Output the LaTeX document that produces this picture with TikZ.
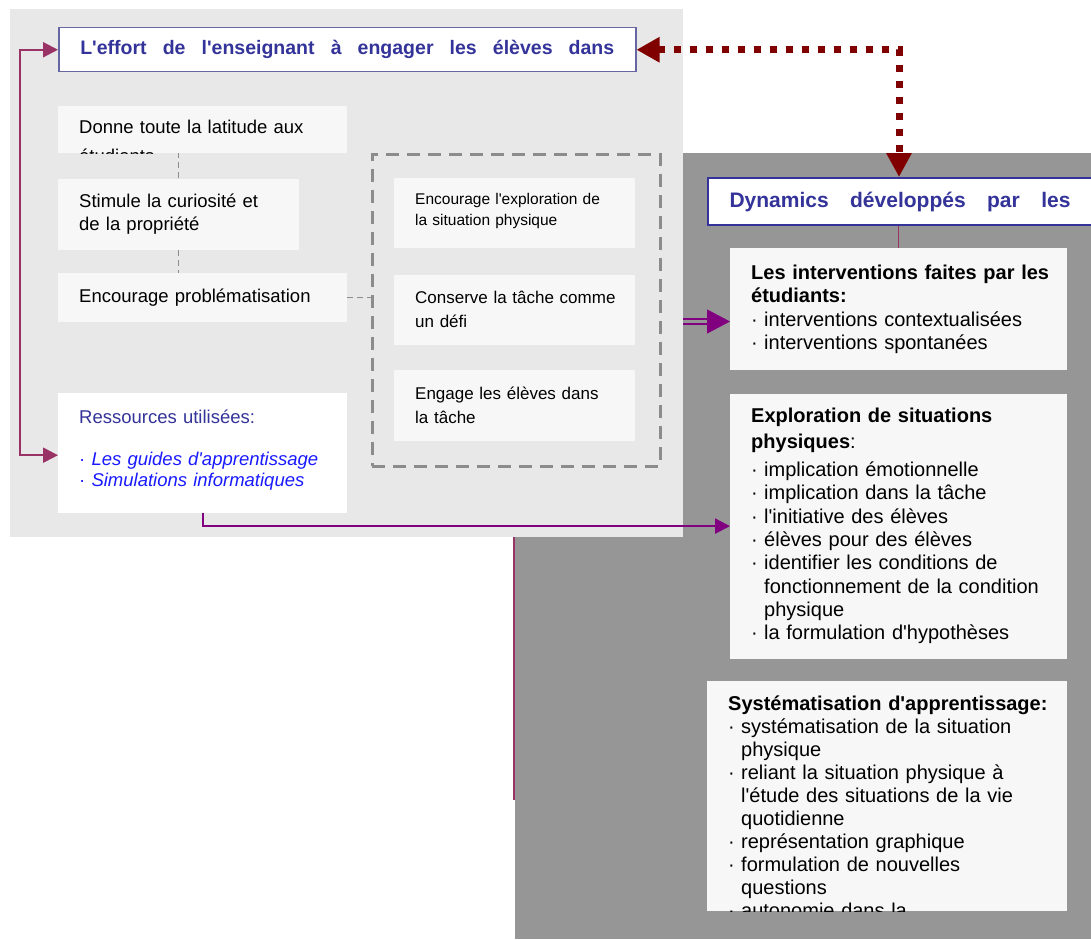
\documentclass[tikz,border=0pt]{standalone}
\usepackage{fontspec}
\setmainfont{Liberation Sans}[Ligatures=TeXOff]
\usetikzlibrary{positioning,arrows.meta}
\definecolor{fondclair}{HTML}{E8E8E8}
\definecolor{fondsombre}{HTML}{969696}
\definecolor{fondboite}{HTML}{F7F7F7}
\definecolor{bleutitre}{HTML}{333399}
\definecolor{cadretitre}{HTML}{6666A3}
\definecolor{roselien}{HTML}{993366}
\definecolor{violetlien}{HTML}{800080}
\definecolor{rougefonce}{HTML}{800000}
\definecolor{gristrait}{HTML}{8C8C8C}
\definecolor{bleuital}{HTML}{1A1AFF}
\newcommand{\puce}{\makebox[13pt][l]{·}}
\newcommand{\retrait}{\hspace*{13pt}}
\tikzset{panneau/.style={
        anchor=north west, 
        inner sep=0pt } }
\tikzset{titre/.style={
        fill=white, 
        anchor=north west, 
        inner sep=0pt, 
        text=bleutitre, 
        font={\bfseries\fontsize{19.5}{23}\selectfont} } }
\tikzset{boite/.style={
        fill=fondboite, 
        anchor=north west, 
        inner xsep=21pt, 
        inner ysep=0pt, 
        align=left } }
\tikzset{texteg/.style={font={\fontsize{18.5}{23.5}\selectfont}}}
\tikzset{textep/.style={font={\fontsize{17}{23.5}\selectfont}}}
\tikzset{textedr/.style={font={\fontsize{20}{23.3}\selectfont}}}
\tikzset{tiretgris/.style={
        draw=gristrait, 
        line width=1.2pt, 
        dash pattern=on 6pt off 4pt } }
\tikzset{lienrose/.style={draw=roselien, line width=2.2pt}}
\tikzset{lienviolet/.style={draw=violetlien, line width=2.2pt}}
\tikzset{pointille/.style={
        draw=rougefonce, 
        line width=7pt, 
        dash pattern=on 7pt off 9pt } }

\begin{document}
\begin{tikzpicture}[x=1pt,y=-1pt]
\useasboundingbox (0,0) rectangle (1091,939);

% fonds
\node[panneau, fill=fondsombre, minimum width=580pt, minimum height=786pt] (sombre) at (515,153) {};
\node[panneau, fill=fondclair, minimum width=673pt, minimum height=528pt] (clair) at (10,9) {};

% partie enseignant
\node[titre, draw=cadretitre, line width=1.5pt, minimum width=577pt, minimum height=44pt] (effort) at (58,27) 
{\makebox[534pt][s]{L'effort de l'enseignant à engager les élèves dans}};

\node[boite, minimum width=289pt, minimum height=47pt] (donne) at (58,106) {};
\begin{scope}
\clip (donne.north west) rectangle (donne.south east);
\node[font={\fontsize{18.5}{29}\selectfont}, anchor=north west, text width=247pt, align=left, inner xsep=21pt, inner ysep=14pt] (donnetxt) 
at (donne.north west) {\mbox{Donne toute la latitude aux}\\étudiants};
\end{scope}

\node[boite, texteg, text width=199pt, minimum height=71pt] (stimule) 
[below=25pt of donne.south west, anchor=north west] {\mbox{Stimule la curiosité et}\\de la propriété};
\node[boite, texteg, text width=247pt, minimum height=49pt] (encourage) 
[below=23pt of stimule.south west, anchor=north west] {\mbox{Encourage problématisation}};

\node[panneau, draw=gristrait, line width=2.5pt, dash pattern=on 13pt off 8pt, minimum width=288pt, minimum height=312pt] (cadre) at (371,153) {};

\node[boite, font={\fontsize{15.5}{21}\selectfont}, text width=199pt, minimum height=70pt] (explor) at (394,178) 
{\mbox{Encourage l'exploration de}\\la situation physique\\[-14pt]\mbox{}};
\node[boite, textep, text width=199pt, minimum height=70pt] (conserve) 
[below=26pt of explor.south west, anchor=north west] {\mbox{Conserve la tâche comme}\\un défi};
\node[boite, textep, text width=199pt, minimum height=71pt] (engage) 
[below=25pt of conserve.south west, anchor=north west] {\mbox{Engage les élèves dans}\\la tâche};

\node[boite, fill=white, font={\fontsize{18.5}{21}\selectfont}, text width=247pt, minimum height=120pt] (ressources) at (58,393) 
{\textcolor{bleutitre}{Ressources utilisées:}\\[21pt]
\textcolor{bleuital}{· \textit{Les guides d'apprentissage}}\\
\textcolor{bleuital}{· \textit{Simulations informatiques}}\\[-10pt]\mbox{}};

% partie eleves
\node[titre, draw=bleutitre, line width=2pt, minimum width=390pt, minimum height=47pt, 
font={\bfseries\fontsize{21}{24}\selectfont}] (dynamique) at (707,177) 
{\hspace*{-6pt}\makebox[341pt][s]{Dynamics développés par les}};

\node[boite, textedr, text width=295pt, minimum height=122pt] (interv) at (730,248) 
{\mbox{\textbf{Les interventions faites par les}}\\
\textbf{étudiants:}\\
\mbox{\puce interventions contextualisées}\\
\puce interventions spontanées};

\node[boite, textedr, text width=295pt, minimum height=265pt] (explo) 
[below=23pt of interv.south west, anchor=north west] 
{\mbox{\textbf{Exploration de situations}}\\[2pt]
\textbf{physiques}:\\[5pt]
\puce implication émotionnelle\\
\puce implication dans la tâche\\
\puce l'initiative des élèves\\
\puce élèves pour des élèves\\
\mbox{\puce identifier les conditions de}\\
\mbox{\retrait fonctionnement de la condition}\\
\retrait physique\\
\mbox{\puce la formulation d'hypothèses}};

\node[boite, minimum width=360pt, minimum height=230pt] (syst) at (707,681) {};
\begin{scope}
\clip (syst.north west) rectangle (syst.south east);
\node[font={\fontsize{20}{23}\selectfont}, anchor=north west, text width=320pt, align=left, inner xsep=21pt, inner ysep=15pt] (systtxt) 
at (syst.north west) 
{\mbox{\textbf{Systématisation d'apprentissage:}}\\
\mbox{\puce systématisation de la situation}\\
\retrait physique\\
\mbox{\puce reliant la situation physique à}\\
\mbox{\retrait l'étude des situations de la vie}\\
\retrait quotidienne\\
\mbox{\puce représentation graphique}\\
\mbox{\puce formulation de nouvelles}\\
\retrait questions\\
\puce autonomie dans la};
\end{scope}

% liens
\coordinate (gauche) at (20,0);
\coordinate (coude) at (899,0);
\coordinate (depart) at (683,321.5);
\coordinate (traithaut) at (514,537);
\coordinate (traitbas) at (514,800);

\draw[tiretgris] (stimule.north) -- (stimule.north |- donne.south);
\draw[tiretgris] (stimule.south) -- (stimule.south |- encourage.north);
\draw[tiretgris] (encourage.east) -- (encourage.east -| cadre.west);

\draw[lienrose, {Triangle[length=15pt,width=15pt]}-{Triangle[length=15pt,width=15pt]}] 
(effort.west) -- (effort.west -| gauche) |- ([yshift=-2pt]ressources.west);
\draw[lienviolet, -{Triangle[length=15pt,width=15pt]}] (ressources.south) |- (explo.west);
\draw[pointille, {Triangle[length=23pt,width=24pt]}-{Triangle[length=24pt,width=24pt]}] 
(effort.east) -- (effort.east -| coude) -- (coude |- dynamique.north);
\draw[lienrose, line width=1.5pt] (interv.north |- dynamique.south) -- (interv.north);
\draw[draw=violetlien, line width=1.8pt, double=fondsombre, double distance=3pt] 
(depart) -- ([xshift=-23pt]interv.west |- depart);
\draw[lienviolet, line width=1pt, -{Triangle[length=23pt,width=24pt]}] 
([xshift=-23pt]interv.west |- depart) -- (interv.west |- depart);
\draw[lienrose, line width=1.3pt] (traithaut) -- (traitbas);

\end{tikzpicture}
\end{document}
